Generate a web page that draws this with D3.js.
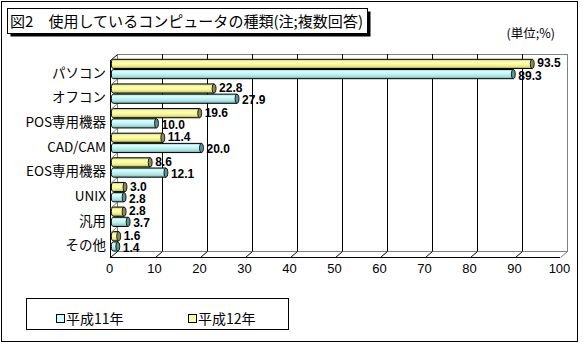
<!DOCTYPE html>
<html><head><meta charset="utf-8">
<script src="https://cdn.jsdelivr.net/npm/d3@7"></script>
<style>body{margin:0;background:#fff}svg{display:block}</style>
</head><body>
<svg id="c" width="583" height="345"></svg>
<script>
const categories = ["パソコン","オフコン","POS専用機器","CAD/CAM","EOS専用機器","UNIX","汎用","その他"];
const seriesNames = ["平成11年","平成12年"];
const h11 = [89.3,27.9,10.0,20.0,12.1,2.8,3.7,1.4];
const h12 = [93.5,22.8,19.6,11.4,8.6,3.0,2.8,1.6];
const xTicks = [0,10,20,30,40,50,60,70,80,90,100];
const titleText = "図2　使用しているコンピュータの種類(注;複数回答)";
const unitText = "(単位;%)";

(function(){
const svg = d3.select("#c");
const jp = "'Noto Sans CJK JP','Noto Sans',sans-serif";
const num = "'Liberation Sans',Arial,sans-serif";

// outer frame
svg.append("rect").attr("x",1.5).attr("y",1.5).attr("width",576).attr("height",340)
  .attr("fill","#fff").attr("stroke","#000");

// title box
svg.append("rect").attr("x",10.5).attr("y",11.5).attr("width",360).attr("height",25).attr("fill","#000");
svg.append("rect").attr("x",7.5).attr("y",8.5).attr("width",360).attr("height",25).attr("fill","#fff").attr("stroke","#000");
svg.append("text").attr("x",10).attr("y",27).attr("font-family",jp).attr("font-size",15)
  .attr("textLength",353).attr("lengthAdjust","spacingAndGlyphs").text(titleText);
svg.append("text").attr("x",555).attr("y",38).attr("text-anchor","end").attr("font-family",jp)
  .attr("font-size",12.5).text(unitText);

// scales
const dx = 7, dy = -6;
const xFront = d3.scaleLinear().domain([0,100]).range([110,560]);
const xBar = d3.scaleLinear().domain([0,100]).range([111.5,561.5]);
const yFront = d3.scaleBand().domain(categories).range([60,257]);
const yMid = d3.scaleBand().domain(categories).range([57,254]);
const sub = d3.scaleBand().domain(["平成12年","平成11年"]).range([2.3,21.7]).paddingInner(0.1);

const wallTop = 54, wallBottom = 251;
const g = svg.append("g");
// back wall
g.append("rect").attr("x",xFront(0)+dx+0.5).attr("y",wallTop+0.5).attr("width",xFront(100)-xFront(0)).attr("height",wallBottom-wallTop)
  .attr("fill","#fff").attr("stroke","#808080");
// gridlines back
xTicks.slice(1,-1).forEach(t=>{
  g.append("line").attr("x1",xFront(t)+dx+0.5).attr("x2",xFront(t)+dx+0.5).attr("y1",wallTop).attr("y2",wallBottom)
   .attr("stroke","#000");
});
// floor
g.append("line").attr("x1",xFront(0)).attr("x2",xFront(100)).attr("y1",257.5).attr("y2",257.5).attr("stroke","#000");
xTicks.forEach(t=>{
  g.append("line").attr("x1",xFront(t)+0.5).attr("y1",257.5).attr("x2",xFront(t)+dx+0.5).attr("y2",257.5+dy)
   .attr("stroke", t===100 ? "#808080" : "#000");
});
// left wall
g.append("line").attr("x1",xFront(0)+0.5).attr("x2",xFront(0)+0.5).attr("y1",60).attr("y2",257.5).attr("stroke","#000");
g.append("line").attr("x1",xFront(0)+0.5).attr("y1",60.5).attr("x2",xFront(0)+dx+0.5).attr("y2",wallTop+0.5).attr("stroke","#000");
categories.forEach((c,i)=>{
  if(i===0) return;
  const y = yFront(c)+0.5;
  g.append("line").attr("x1",xFront(0)+0.5).attr("y1",y).attr("x2",xFront(0)+dx+0.5).attr("y2",y+dy).attr("stroke","#808080");
});

// gradients
const defs = svg.append("defs");
function grad(id, stops){
  const lg = defs.append("linearGradient").attr("id",id).attr("x1",0).attr("x2",0).attr("y1",0).attr("y2",1);
  stops.forEach(s=>lg.append("stop").attr("offset",s[0]).attr("stop-color",s[1]));
}
grad("gy",[[0,"#b8b860"],[0.2,"#f6f6a4"],[0.45,"#ffffb0"],[0.75,"#ecec84"],[1,"#a8a850"]]);
grad("gc",[[0,"#80c0c0"],[0.2,"#d8ffff"],[0.45,"#c8f4f4"],[0.75,"#a8e0e0"],[1,"#70a8a8"]]);

const series = [
  {name:"平成12年", vals:h12, fill:"url(#gy)", cap:"#8c8c54", shift:-1},
  {name:"平成11年", vals:h11, fill:"url(#gc)", cap:"#5c9494", shift:1}
];
const bars = svg.append("g");
series.forEach(s=>{
  categories.forEach((c,i)=>{
    const v = s.vals[i];
    const y = yMid(c)+sub(s.name);
    const h = sub.bandwidth();
    const x0 = xBar(0)+2, x1 = xBar(v);
    bars.append("path")
      .attr("d",`M${x0},${y} L${x1},${y} L${x1},${y+h} L${x0},${y+h} A2.2,${h/2} 0 0 1 ${x0},${y} Z`)
      .attr("fill",s.fill).attr("stroke","#000").attr("stroke-width",1);
    bars.append("ellipse").attr("cx",x1).attr("cy",y+h/2).attr("rx",2).attr("ry",h/2)
      .attr("fill",s.cap).attr("stroke","#000").attr("stroke-width",0.8);
    bars.append("text").attr("x",x1+5).attr("y",y+h/2+4.5+s.shift)
      .attr("font-family",num).attr("font-weight","bold").attr("font-size",12)
      .text(v.toFixed(1));
  });
});

// category labels
categories.forEach(c=>{
  svg.append("text").attr("x",106).attr("y",yFront(c)+yFront.bandwidth()/2+5.5)
    .attr("text-anchor","end").attr("font-family",jp).attr("font-size",13.5).text(c);
});
// x tick labels
xTicks.forEach(t=>{
  svg.append("text").attr("x",xFront(t)-0.5).attr("y",273).attr("text-anchor","middle")
    .attr("font-family",num).attr("font-size",13).text(t);
});

// legend
const lg = svg.append("g");
lg.append("rect").attr("x",26.5).attr("y",298.5).attr("width",262).attr("height",31).attr("fill","#fff").attr("stroke","#000");
const legItems = [{name:seriesNames[0], color:"#ccffff", x:56},{name:seriesNames[1], color:"#ffff99", x:188}];
legItems.forEach(d=>{
  lg.append("rect").attr("x",d.x+0.5).attr("y",314.5).attr("width",8).attr("height",8).attr("fill",d.color).attr("stroke","#000");
  lg.append("text").attr("x",d.x+10).attr("y",323.5).attr("font-family",jp).attr("font-size",14).text(d.name);
});
})();
</script>
</body></html>
